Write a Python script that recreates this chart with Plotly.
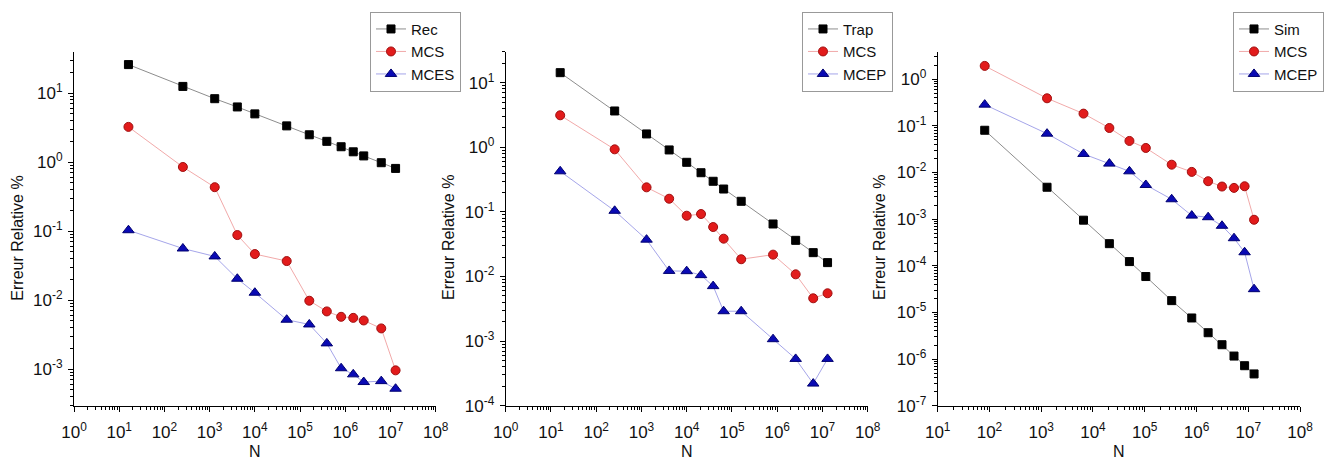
import plotly.graph_objects as go

# ---------------- data ----------------
# Panel 1 : Rectangle rule vs MC
N1 = [16, 256, 1296, 4096, 10000, 50625, 160000, 390625, 810000, 1500625, 2560000, 6250000, 12960000]
rec = [25.9, 12.5, 8.3, 6.3, 5.0, 3.35, 2.49, 2.0, 1.67, 1.41, 1.23, 0.98, 0.81]
mcs1 = [3.24, 0.85, 0.433, 0.0877, 0.0465, 0.0368, 0.0098, 0.00686, 0.00573, 0.00553, 0.00507, 0.00389, 0.00096]
mces1 = [0.103, 0.056, 0.043, 0.0204, 0.0128, 0.0052, 0.00444, 0.00236, 0.00103, 0.00084, 0.00065, 0.00067, 0.00052]

# Panel 2 : Trapezoid rule vs MC
N2 = [16, 256, 1296, 4096, 10000, 20736, 38416, 65536, 160000, 810000, 2560000, 6250000, 12960000]
trap = [14.3, 3.65, 1.61, 0.91, 0.586, 0.404, 0.298, 0.226, 0.146, 0.065, 0.0363, 0.0234, 0.0164]
mcs2 = [3.13, 0.93, 0.24, 0.16, 0.0873, 0.0927, 0.0583, 0.0385, 0.0185, 0.0218, 0.0108, 0.0046, 0.0055]
mcep2 = [0.425, 0.104, 0.0372, 0.0122, 0.0121, 0.0105, 0.0071, 0.0029, 0.0029, 0.00107, 0.00053, 0.00022, 0.00053]

# Panel 3 : Simpson rule vs MC
N3 = [81, 1296, 6561, 20736, 50625, 104976, 331776, 810000, 1679616, 3111696, 5308416, 8503056, 12960000]
sim = [0.0805, 0.00483, 0.00095, 0.000298, 0.000123, 5.88e-5, 1.79e-5, 7.6e-6, 3.67e-6, 2.03e-6, 1.16e-6, 7.2e-7, 4.8e-7]
mcs3 = [1.93, 0.39, 0.183, 0.090, 0.0475, 0.0336, 0.0147, 0.0103, 0.0065, 0.0050, 0.00468, 0.00507, 0.00097]
mcep3 = [0.285, 0.068, 0.025, 0.0155, 0.0106, 0.0054, 0.00267, 0.00119, 0.0011, 0.00072, 0.00039, 0.000195, 3.15e-5]

x_exps = [list(range(0, 9)), list(range(0, 9)), list(range(1, 9))]
y_exps = [list(range(-3, 2)), list(range(-4, 2)), list(range(-7, 1))]
x_title = "N"
y_title = "Erreur Relative %"

panels = [
    (N1, [("Rec", rec), ("MCS", mcs1), ("MCES", mces1)]),
    (N2, [("Trap", trap), ("MCS", mcs2), ("MCEP", mcep2)]),
    (N3, [("Sim", sim), ("MCS", mcs3), ("MCEP", mcep3)]),
]

# ---------------- styling ----------------
W, H = 1337, 462
FONT = "Liberation Sans, Arial, sans-serif"
styles = [
    dict(marker=dict(symbol="square", size=8, color="#000000", line=dict(color="#000000", width=1)),
         line=dict(color="rgba(0,0,0,0.45)", width=1)),
    dict(marker=dict(symbol="circle", size=9, color="#e21b1b", line=dict(color="#a01010", width=1)),
         line=dict(color="rgba(220,40,40,0.4)", width=1)),
    dict(marker=dict(symbol="triangle-up", size=10, color="#0a0ab4", line=dict(color="#000070", width=1)),
         line=dict(color="rgba(30,30,200,0.4)", width=1)),
]

x_px = [(74, 435.7), (505.7, 867.7), (937.7, 1300)]
y_px = (51.7, 405.7)
x_ranges = [[0, 8], [0, 8], [1, 8]]
y_ranges = [[-3.53, 1.60], [-4, 1.48], [-7, 0.59]]
legend_px = [370, 802, 1233]
ytitle_px = [16.7, 448, 879]

fig = go.Figure()

def minor_vals(lo, hi):
    return [d * 10.0 ** k for k in range(lo - 1, hi + 1) for d in range(2, 10)]

for i, (xs, series) in enumerate(panels):
    ax = "" if i == 0 else str(i + 1)
    leg = "legend" if i == 0 else f"legend{i + 1}"
    for j, (name, ys) in enumerate(series):
        fig.add_trace(go.Scatter(
            x=xs, y=ys, name=name, mode="lines+markers",
            xaxis="x" + ax, yaxis="y" + ax, legend=leg,
            marker=styles[j]["marker"], line=styles[j]["line"],
            cliponaxis=False,
        ))
    xd = [x_px[i][0] / W, x_px[i][1] / W]
    yd = [1 - y_px[1] / H, 1 - y_px[0] / H]
    common = dict(
        type="log", showline=True, linecolor="black", linewidth=1,
        ticks="outside", ticklen=5, tickwidth=1, tickcolor="black",
        showgrid=False, zeroline=False, mirror=False, automargin=False,
        tickfont=dict(family=FONT, size=17, color="#111"),
    )
    xe = x_exps[i]
    ye = y_exps[i]
    fig.update_layout({
        "xaxis" + ax: dict(
            common, domain=xd, range=x_ranges[i], anchor="y" + ax,
            tickmode="array", tickvals=[10.0 ** e for e in xe],
            ticktext=[f"10<sup>{e}</sup>" for e in xe],
            ticklabelstandoff=6,
            minor=dict(tickmode="array", tickvals=minor_vals(xe[0], xe[-1]),
                       ticks="outside", ticklen=3, tickcolor="black", showgrid=False),
        ),
        "yaxis" + ax: dict(
            common, domain=yd, range=y_ranges[i], anchor="x" + ax,
            tickmode="array", tickvals=[10.0 ** e for e in ye],
            ticktext=[f"10<sup>{e}</sup>" for e in ye],
            ticklabelstandoff=2,
            minor=dict(tickmode="array", tickvals=minor_vals(ye[0], ye[-1] + 1),
                       ticks="outside", ticklen=3, tickcolor="black", showgrid=False),
        ),
        leg: dict(
            x=legend_px[i] / W, y=1 - 11.7 / H, xanchor="left", yanchor="top",
            bordercolor="#999", borderwidth=1, bgcolor="white",
            font=dict(family=FONT, size=15, color="#111"),
            tracegroupgap=0, itemwidth=30,
        ),
    })
    fig.add_annotation(text=y_title, textangle=-90, x=ytitle_px[i] / W, y=1 - 238 / H,
                       xref="paper", yref="paper", xanchor="center", yanchor="middle",
                       showarrow=False, font=dict(family=FONT, size=16, color="#111"))
    fig.add_annotation(text=x_title, x=(x_px[i][0] + x_px[i][1]) / 2 / W, y=1 - 451 / H,
                       xref="paper", yref="paper", xanchor="center", yanchor="middle",
                       showarrow=False, font=dict(family=FONT, size=16, color="#111"))

fig.update_layout(
    width=W, height=H, margin=dict(l=0, r=0, t=0, b=0, autoexpand=False),
    paper_bgcolor="white", plot_bgcolor="white", showlegend=True,
)

fig.write_html("out.html")
